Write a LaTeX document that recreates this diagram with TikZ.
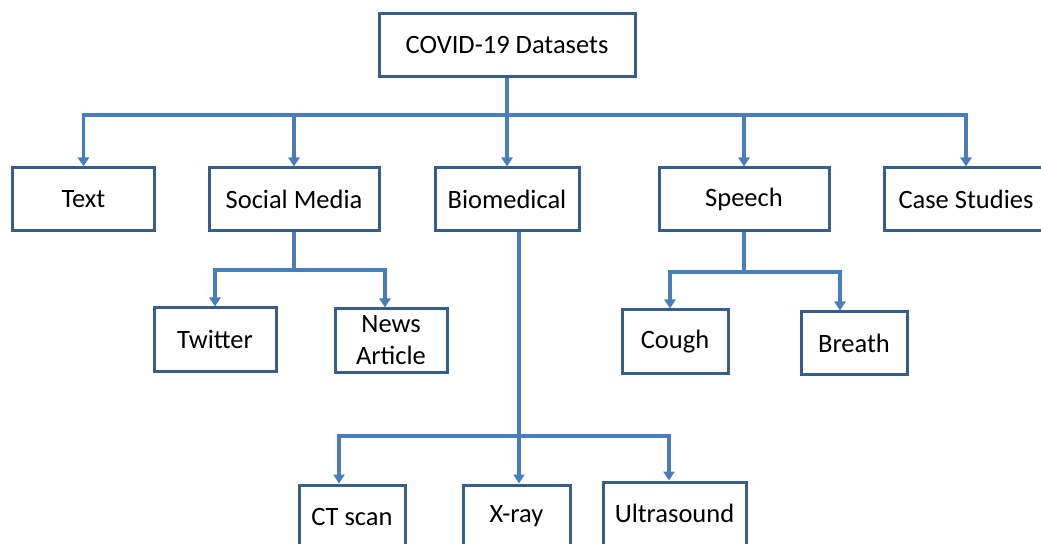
\documentclass[tikz,border=0pt]{standalone}
\usepackage{fontspec}
\setmainfont{Carlito}
\usetikzlibrary{arrows.meta}
\definecolor{boxc}{HTML}{385D8A}
\definecolor{linec}{HTML}{4A7EBB}
\tikzset{
  box/.style={draw=boxc, line width=3bp, rectangle, inner sep=0pt, minimum height=63bp,
    font=\fontsize{26.5bp}{32bp}\selectfont, align=center, text=black},
  conn/.style={draw=linec, line width=3.2bp, line join=miter},
  arr/.style={conn, -{Triangle[length=9bp,width=11bp]}},
}
\begin{document}
\begin{tikzpicture}[x=1bp,y=-1bp]
\useasboundingbox (0,0) rectangle (1041,544);
\clip (0,0) rectangle (1041,544);

% nodes
\node[box, minimum width=256bp] (root) at (507,45.5) {COVID-19 Datasets};
\node[box, minimum width=141bp] (text) at (83.5,199.5) {Text};
\node[box, minimum width=170bp] (social) at (294,199.5) {Social Media};
\node[box, minimum width=144bp] (bio) at (507,199.5) {Biomedical};
\node[box, minimum width=170bp] (speech) at (744,199.5) {Speech};
\node[box, minimum width=164bp] (case) at (966,199.5) {Case Studies};
\node[box, minimum width=122bp] (twitter) at (215,339.5) {Twitter};
\node[box, minimum width=112bp] (news) at (391,340.5) {News\\Article};
\node[box, minimum width=106bp] (cough) at (675,341.5) {Cough};
\node[box, minimum width=106bp, minimum height=62bp] (breath) at (854,343) {Breath};
\node[box, minimum width=106bp] (ct) at (352,516.5) {CT scan};
\node[box, minimum width=107bp] (xray) at (516.5,516.5) {X-ray};
\node[box, minimum width=143bp] (ultra) at (674.5,513.5) {Ultrasound};

% bus coordinates
\coordinate (bus) at (506,115);
\coordinate (sbus) at (294,270);
\coordinate (newsx) at (385,270);
\coordinate (pbus) at (744,272);
\coordinate (coughx) at (670,272);
\coordinate (breathx) at (840,272);
\coordinate (bbus) at (519,436);
\coordinate (ctx) at (339,436);
\coordinate (ultrax) at (669,436);

% root connectors
\foreach \c in {text,social,bio,speech,case}
  \draw[arr] (root.south) -- (root.south |- bus) -| (\c.north);

% social media
\draw[arr] (social.south) -- (sbus) -| (twitter.north);
\draw[arr] (social.south) -- (sbus) -- (newsx) -- (newsx |- news.north);

% speech
\draw[arr] (speech.south) -- (pbus) -- (coughx) -- (coughx |- cough.north);
\draw[arr] (speech.south) -- (pbus) -- (breathx) -- (breathx |- breath.north);

% biomedical
\draw[arr] (bio.south -| bbus) -- (bbus) -- (ctx) -- (ctx |- ct.north);
\draw[arr] (bio.south -| bbus) -- (bbus |- xray.north);
\draw[arr] (bio.south -| bbus) -- (bbus) -- (ultrax) -- (ultrax |- ultra.north);
\end{tikzpicture}
\end{document}
